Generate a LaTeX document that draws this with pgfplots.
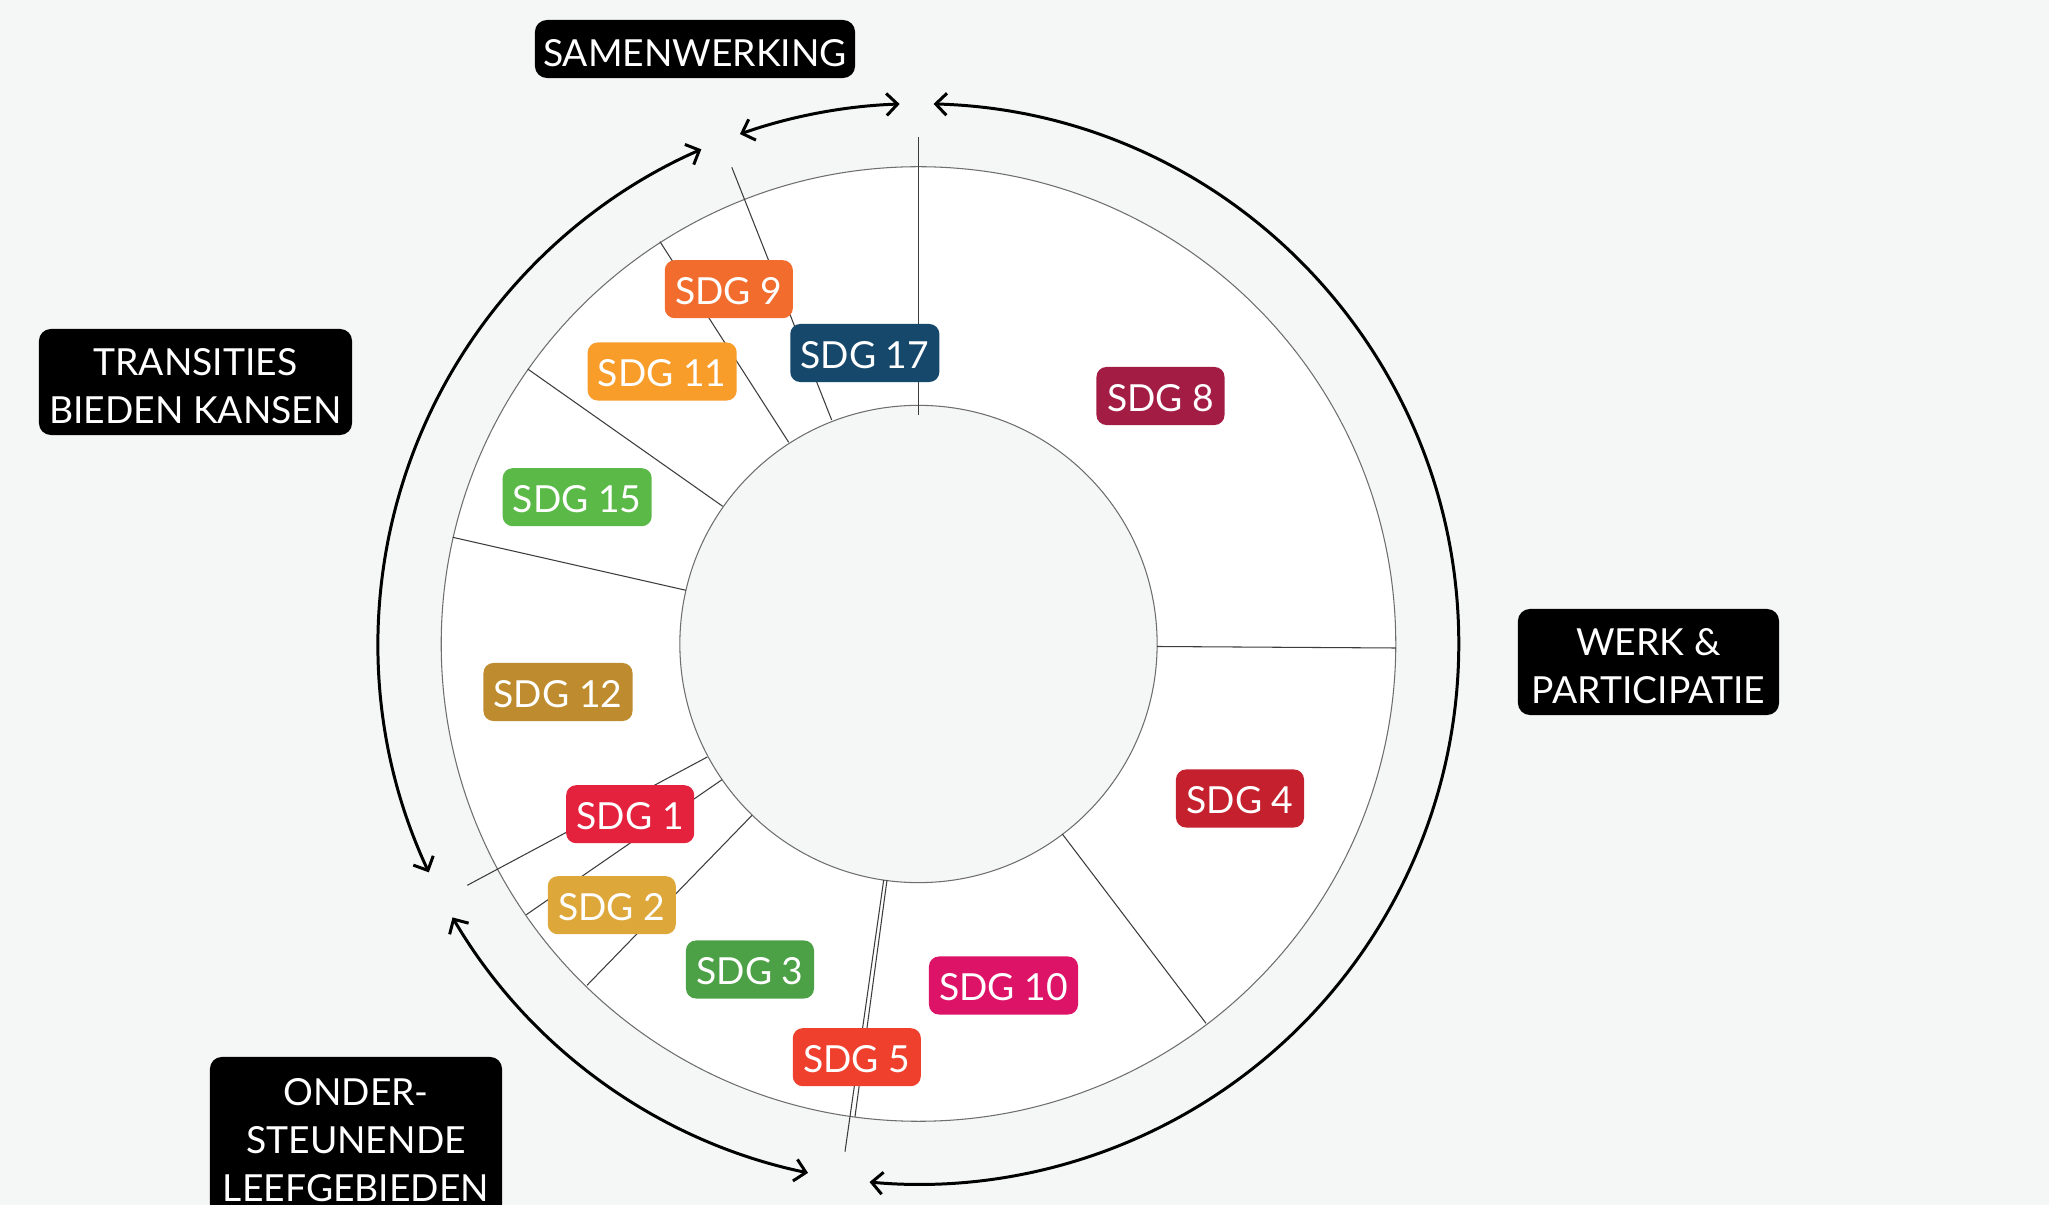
\documentclass[border=0pt]{standalone}
\usepackage{pgfplots}
\pgfplotsset{compat=1.18}
\usepackage{fontspec}
\setmainfont{Lato}
\usetikzlibrary{arrows.meta}

\definecolor{bg}{HTML}{F5F7F6}
\definecolor{ringline}{HTML}{6E6E6E}
\definecolor{sepline}{HTML}{3C3C3C}
\definecolor{sdg1}{HTML}{E4223E}
\definecolor{sdg2}{HTML}{DEA73A}
\definecolor{sdg3}{HTML}{4CA146}
\definecolor{sdg4}{HTML}{C5202E}
\definecolor{sdg5}{HTML}{EF402E}
\definecolor{sdg8}{HTML}{A31C44}
\definecolor{sdg9}{HTML}{F26C2E}
\definecolor{sdg10}{HTML}{DD1367}
\definecolor{sdg11}{HTML}{F89D2A}
\definecolor{sdg12}{HTML}{BE8C2E}
\definecolor{sdg15}{HTML}{5BBA47}
\definecolor{sdg17}{HTML}{15486A}

\newcommand\lblfont{\fontsize{10.6pt}{13.65pt}\selectfont}
% group box: #1 = centre, #2 = width, #3 = height, #4 = text
\newcommand\grpbox[4]{%
  \node[fill=black, rounded corners=0.12cm, inner sep=0pt,
        minimum width=#2, minimum height=#3] at (#1) {};
  \node[text=white, align=center, inner sep=0pt, font=\lblfont,
        yshift=-0.04cm] at (#1) {#4};}

\pgfplotsset{sep/.style={color=sepline, line width=0.3pt, no markers, forget plot}}

\begin{document}
\begin{tikzpicture}[
    sdg/.style={rounded corners=0.1cm, text=white, minimum width=1.28cm,
        minimum height=0.58cm, inner sep=0pt, text height=0.30cm,
        text depth=0pt, font=\lblfont},
    wide/.style={minimum width=1.49cm},
    arr/.style={line width=0.85pt, {Straight Barb[length=1.1mm,width=2.2mm]}-{Straight Barb[length=1.1mm,width=2.2mm]}},
]
\begin{axis}[
    x=0.01cm, y=0.01cm,
    xmin=0, xmax=2049, ymin=0, ymax=1205,
    y dir=reverse,
    hide axis,
    clip=false,
]
% background and ring
\fill[bg] (axis cs:0,0) rectangle (axis cs:2049,1205);
\filldraw[fill=white, draw=ringline, line width=0.3pt] (axis cs:918.5,644) circle[radius=4.77cm];
\filldraw[fill=bg, draw=ringline, line width=0.3pt] (axis cs:918.5,644) circle[radius=2.385cm];

% segment boundaries (inner point, outer point)
\addplot[sep] coordinates {(918.5,415) (918.5,137)};
\addplot[sep] coordinates {(1157,646.5) (1395.5,648)};
\addplot[sep] coordinates {(1062.3,834) (1206,1023.3)};
\addplot[sep] coordinates {(887,880) (855,1116.7)};
\addplot[sep] coordinates {(883.7,880) (845,1151.7)};
\addplot[sep] coordinates {(752,815.3) (587,985.3)};
\addplot[sep] coordinates {(722,779.7) (526.3,914.7)};
\addplot[sep] coordinates {(707.3,757) (467.3,885.3)};
\addplot[sep] coordinates {(686,590.3) (452.7,537.3)};
\addplot[sep] coordinates {(722.7,506.3) (527.7,369)};
\addplot[sep] coordinates {(788.7,442.3) (660,241.7)};
\addplot[sep] coordinates {(831.7,420) (731.8,167.3)};

% SDG labels
\node[sdg, fill=sdg8] at (axis cs:1160.5,396) {SDG 8};
\node[sdg, fill=sdg4] at (axis cs:1240,798.5) {SDG 4};
\node[sdg, wide, fill=sdg10] at (axis cs:1003.5,985.5) {SDG 10};
\node[sdg, fill=sdg5] at (axis cs:856.8,1057.2) {SDG 5};
\node[sdg, fill=sdg3] at (axis cs:750,969.5) {SDG 3};
\node[sdg, fill=sdg2] at (axis cs:611.8,905.2) {SDG 2};
\node[sdg, fill=sdg1] at (axis cs:630.2,814.2) {SDG 1};
\node[sdg, wide, fill=sdg12] at (axis cs:558,692) {SDG 12};
\node[sdg, wide, fill=sdg15] at (axis cs:577.2,497.2) {SDG 15};
\node[sdg, wide, fill=sdg11] at (axis cs:662.2,371.5) {SDG 11};
\node[sdg, fill=sdg9] at (axis cs:728.8,289.2) {SDG 9};
\node[sdg, wide, fill=sdg17] at (axis cs:864.8,353) {SDG 17};

% group arrows
\draw[arr] (axis cs:918.5,644) ++(109.3:5.4cm) arc[start angle=109.3, end angle=92.0, radius=5.4cm];
\draw[arr] (axis cs:918.5,644) ++(88.4:5.4cm) arc[start angle=88.4, end angle=-95.2, radius=5.4cm];
\draw[arr] (axis cs:918.5,644) ++(-101.8:5.4cm) arc[start angle=-101.8, end angle=-149.6, radius=5.4cm];
\draw[arr] (axis cs:918.5,644) ++(-155:5.4cm) arc[start angle=-155, end angle=-246.3, radius=5.4cm];

% group labels
\grpbox{axis cs:695,49}{3.2cm}{0.58cm}{SAMENWERKING}
\grpbox{axis cs:195.5,382}{3.13cm}{1.06cm}{TRANSITIES\\BIEDEN KANSEN}
\grpbox{axis cs:1648.5,662}{2.61cm}{1.06cm}{WERK \&\\PARTICIPATIE}
\grpbox{axis cs:356,1136.5}{2.92cm}{1.59cm}{ONDER-\\STEUNENDE\\LEEFGEBIEDEN}
\end{axis}
\pgfresetboundingbox
\useasboundingbox (current axis.south west) rectangle (current axis.north east);
\end{tikzpicture}
\end{document}
